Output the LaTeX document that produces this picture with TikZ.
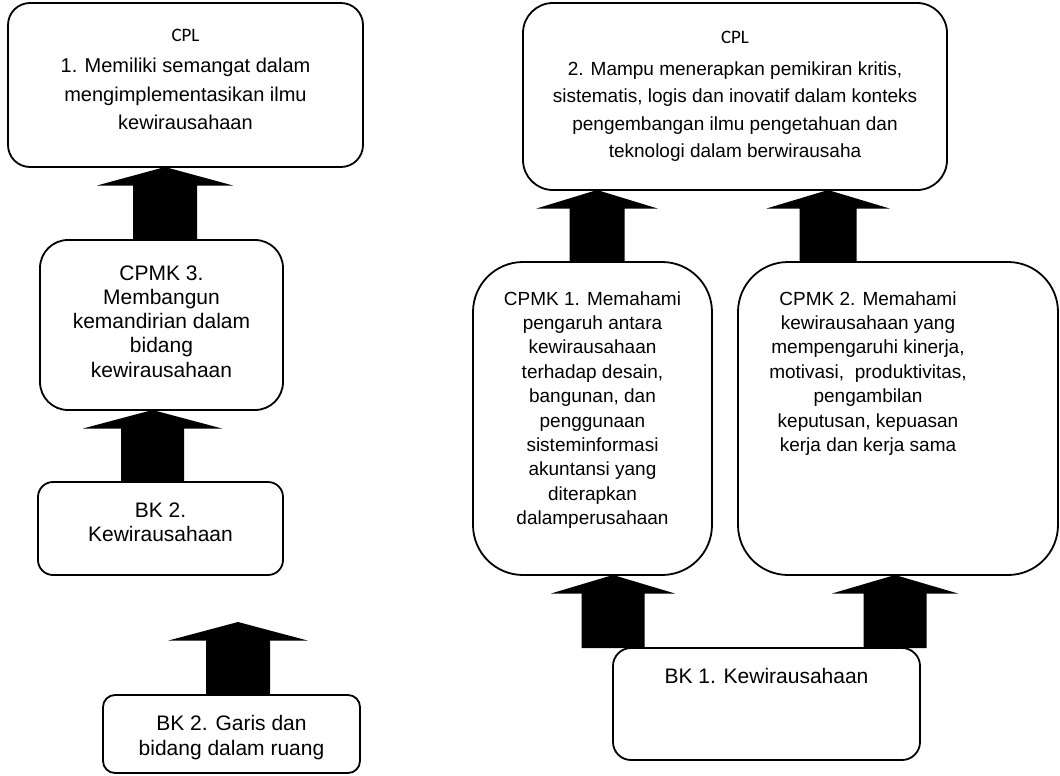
\documentclass[tikz,border=0pt]{standalone}
\usepackage{fontspec}
\setmainfont{Liberation Sans}
\newfontfamily\calibri{Carlito}
\usetikzlibrary{calc}

% panah blok: #1 titik bawah, #2 titik atas, #3 posisi x, #4 setengah lebar kepala, #5 setengah lebar batang
\newcommand{\panah}[5]{%
  \fill ($(#3,0 |- #1)+(-#5,0)$) -- ($(#3,0 |- #2)+(-#5,-18.5)$) -- ($(#3,0 |- #2)+(-#4,-18.5)$)
    -- (#3,0 |- #2) -- ($(#3,0 |- #2)+(#4,-18.5)$) -- ($(#3,0 |- #2)+(#5,-18.5)$)
    -- ($(#3,0 |- #1)+(#5,0)$) -- cycle;}
% isi kotak: #1 lebar, #2 tinggi, #3 jarak baris pertama, #4 teks
\newcommand{\isi}[4]{\parbox[c][#2][t]{#1}{\centering\rule{0pt}{#3}#4}}

\tikzset{
  kotak/.style={draw, line width=1.8pt, inner sep=0pt, outer sep=0pt, rounded corners=#1},
  kotak/.default=15pt
}

\begin{document}
\begin{tikzpicture}[x=1pt, y=1pt]
		\useasboundingbox (0,0) rectangle (1060,-776);
		\node[kotak=22pt, font=\fontsize{20}{28.5}\selectfont] (cpl1) at (185.5,-85)
		{\isi{355pt}{164pt}{39pt}{{\calibri\fontsize{19}{28.5}\selectfont CPL}\\[2.5pt]
			1. Memiliki semangat dalam\\ mengimplementasikan ilmu\\ kewirausahaan}};
		\node[kotak=28pt, font=\fontsize{21}{24.3}\selectfont] (cpmk3) at (161.5,-325)
		{\isi{243pt}{170pt}{40pt}{CPMK 3.\\ Membangun\\ kemandirian dalam\\ bidang\\ kewirausahaan}};
		\node[kotak=15pt, font=\fontsize{21}{24}\selectfont] (bk2) at (160.5,-528.5)
		{\isi{245pt}{93pt}{35pt}{BK 2.\\ Kewirausahaan}};
		\node[kotak=12pt, font=\fontsize{21}{25}\selectfont] (bk2g) at (231.5,-734)
		{\isi{257pt}{78pt}{35pt}{BK 2. Garis dan\\ bidang dalam ruang}};
		\node[kotak=30pt, font=\fontsize{19}{27.5}\selectfont] (cpl2) at (735,-96.5)
		{\isi{424pt}{187pt}{40pt}{{\calibri CPL}\\[4.5pt]
			2. Mampu menerapkan pemikiran kritis,\\ sistematis, logis dan inovatif dalam konteks\\
			pengembangan ilmu pengetahuan dan\\ teknologi dalam berwirausaha}};
		\node[kotak=50pt, font=\fontsize{19}{24.4}\selectfont] (cpmk1) at (592.5,-418.5)
		{\isi{239pt}{313pt}{43pt}{CPMK 1. Memahami\\ pengaruh antara\\ kewirausahaan\\ terhadap desain,\\
			bangunan, dan\\ penggunaan\\ sisteminformasi\\ akuntansi yang\\ diterapkan\\ dalamperusahaan}};
		\node[kotak=50pt, font=\fontsize{19}{24.4}\selectfont] (cpmk2) at (898,-418.5)
		{\isi{320pt}{313pt}{43pt}{\rightskip=60pt plus 1fil\relax CPMK 2. Memahami\\ kewirausahaan yang\\
			mempengaruhi kinerja,\\ motivasi, \ produktivitas,\\ pengambilan\\ keputusan, kepuasan\\ kerja dan kerja sama}};
		\node[kotak=18pt, font=\fontsize{21}{24}\selectfont] (bk1) at (766.5,-704)
		{\isi{307pt}{112pt}{35pt}{BK 1. Kewirausahaan}};
		\coordinate (ujung) at (238,-622);
		\panah{cpmk3.north}{cpl1.south}{165}{68}{32}
		\panah{bk2.north}{cpmk3.south}{152.5}{69.5}{31.5}
		\panah{bk2g.north}{ujung}{238}{69.5}{32}
		\panah{cpmk1.north}{cpl2.south}{597}{60.5}{27.5}
		\panah{cpmk2.north}{cpl2.south}{828}{61.5}{28.5}
		\panah{bk1.north}{cpmk1.south}{613}{62}{31.5}
		\panah{bk1.north}{cpmk2.south}{895}{63}{31.5}
\end{tikzpicture}
\end{document}
